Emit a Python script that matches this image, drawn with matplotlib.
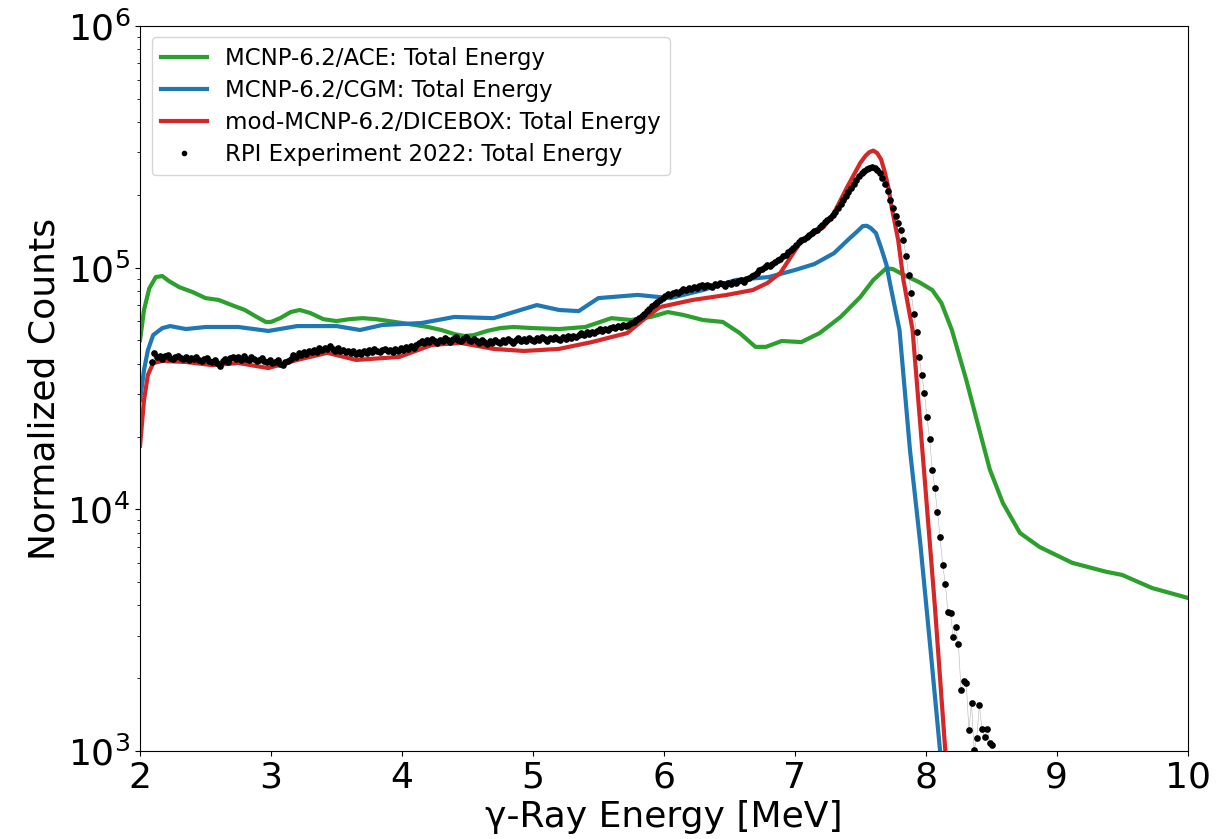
import numpy as np
import matplotlib
matplotlib.use("Agg")
import matplotlib.pyplot as plt

# MCNP-6.2/ACE total energy (MeV, counts)
ace_energy = [2.00, 2.03, 2.07, 2.12, 2.17, 2.22, 2.30, 2.40, 2.50, 2.60, 2.70, 2.80,
              2.88, 2.96, 3.00, 3.07, 3.15, 3.22, 3.30, 3.40, 3.50, 3.60, 3.70, 3.80,
              3.90, 4.00, 4.10, 4.20, 4.30, 4.40, 4.48, 4.55, 4.65, 4.75, 4.85, 5.00,
              5.20, 5.40, 5.60, 5.75, 5.90, 6.03, 6.15, 6.30, 6.45, 6.58, 6.70, 6.78,
              6.90, 7.05, 7.19, 7.35, 7.50, 7.60, 7.70, 7.75, 7.85, 7.95, 8.05, 8.12,
              8.20, 8.31, 8.41, 8.49, 8.59, 8.72, 8.87, 9.12, 9.38, 9.50, 9.73, 10.0]
ace_counts = [50100, 66800, 82000, 91400, 92300, 88000, 83000, 79300, 74800, 73500, 70000, 66800,
              63000, 59600, 59600, 61800, 65500, 66800, 64900, 61200, 60100, 61200, 61800, 61200,
              60100, 59000, 57900, 56800, 55200, 53100, 52100, 52600, 54700, 56200, 56800, 56200,
              55700, 56800, 61800, 60700, 62500, 65500, 63700, 60700, 59600, 53600, 47000, 47000,
              49700, 49200, 53600, 62500, 75500, 88900, 99500, 98600, 92300, 87100, 80800, 71400,
              55200, 34300, 21300, 14600, 10600, 7980, 6980, 6000, 5510, 5350, 4720, 4300]

# MCNP-6.2/CGM total energy
cgm_energy = [2.00, 2.03, 2.06, 2.10, 2.17, 2.23, 2.35, 2.50, 2.75, 2.98, 3.20, 3.50,
              3.68, 3.85, 4.15, 4.40, 4.70, 5.03, 5.20, 5.35, 5.50, 5.80, 6.05, 6.30,
              6.55, 6.80, 7.00, 7.15, 7.30, 7.42, 7.47, 7.52, 7.55, 7.58, 7.62, 7.66,
              7.70, 7.73, 7.80, 7.88, 7.96, 8.03, 8.11, 8.14]
cgm_counts = [28300, 37700, 45600, 52600, 56200, 57300, 55700, 56800, 56800, 54700, 57300, 57300,
              55200, 57900, 59000, 62500, 61800, 70000, 66800, 66100, 74800, 77100, 74800, 80800,
              88900, 91400, 97700, 103500, 114800, 132400, 140000, 148600, 149000, 145900, 139000, 120500,
              103000, 84700, 55200, 17600, 7110, 2880, 1000, 690]

# mod-MCNP-6.2/DICEBOX total energy
dicebox_energy = [2.00, 2.03, 2.06, 2.10, 2.17, 2.35, 2.55, 2.75, 2.98, 3.20, 3.43, 3.65,
                  3.98, 4.23, 4.45, 4.70, 4.93, 5.20, 5.45, 5.72, 5.87, 5.97, 6.22, 6.48,
                  6.68, 6.79, 6.89, 7.04, 7.22, 7.30, 7.40, 7.50, 7.54, 7.57, 7.60, 7.63,
                  7.66, 7.69, 7.715, 7.74, 7.79, 7.83, 7.90, 7.99, 8.07, 8.15, 8.18]
dicebox_counts = [18300, 28300, 36000, 40300, 41100, 40700, 39500, 40300, 38400, 41500, 44400, 41500,
                  42700, 47900, 48800, 46100, 45200, 46100, 49200, 53600, 62500, 68700, 73500, 77100,
                  80800, 86300, 95100, 126500, 147200, 168300, 215300, 271000, 290000, 300600, 305000, 297800,
                  280000, 246000, 215000, 178200, 130000, 88900, 55200, 13900, 3980, 1000, 690]

# RPI experiment 2022, bins of 0.02 MeV starting at 2.09 MeV (counts / 1000)
exp_start, exp_step = 2.09, 0.02
exp_kcounts = [
    40.6, 44.2, 42.8, 43.1, 42.0, 42.9, 43.4, 42.2, 41.7, 42.6,   # 2.09
    43.0, 42.1, 41.8, 42.5, 41.4, 42.3, 41.9, 42.7, 41.5, 40.9,   # 2.29
    41.8, 42.4, 41.2, 40.8, 41.6, 40.3, 39.0, 41.1, 41.9, 40.6,   # 2.49
    42.2, 42.8, 41.7, 42.5, 41.4, 42.9, 42.0, 41.3, 42.6, 41.8,   # 2.69
    40.9, 41.6, 42.3, 41.0, 40.5, 41.4, 40.2, 40.8, 41.5, 40.1,   # 2.89
    39.4, 40.7, 41.2, 42.0, 43.3, 42.6, 44.4, 43.5, 44.9, 44.0,   # 3.09
    45.3, 44.6, 45.8, 44.9, 46.3, 45.5, 46.7, 45.9, 47.2, 46.0,   # 3.29
    45.4, 46.5, 45.1, 45.8, 44.6, 45.3, 44.2, 45.0, 43.8, 44.7,   # 3.49
    44.1, 45.2, 44.5, 45.6, 44.9, 46.0, 45.3, 44.6, 45.7, 46.2,   # 3.69
    45.0, 45.8, 44.8, 46.1, 45.4, 46.4, 45.6, 46.9, 46.0, 47.3,   # 3.89
    46.5, 47.8, 48.6, 49.5, 48.9, 50.2, 49.4, 50.6, 49.8, 48.9,   # 4.09
    50.3, 49.6, 51.0, 50.1, 49.3, 50.8, 51.4, 50.2, 49.5, 50.7,   # 4.29
    51.6, 50.4, 49.8, 50.9, 49.6, 48.8, 50.1, 49.2, 48.5, 49.7,   # 4.49
    48.9, 50.3, 49.4, 48.7, 50.0, 49.1, 50.5, 49.6, 48.8, 50.2,   # 4.69
    51.1, 49.9, 50.8, 49.5, 51.3, 50.4, 49.7, 51.0, 50.2, 51.6,   # 4.89
    50.6, 49.9, 51.2, 50.5, 51.8, 50.9, 50.2, 51.5, 50.8, 52.0,   # 5.09
    51.2, 52.3, 51.6, 52.8, 53.5, 52.7, 54.0, 53.2, 54.4, 53.6,   # 5.29
    54.8, 55.5, 54.6, 55.8, 55.0, 56.2, 57.0, 56.3, 57.5, 56.8,   # 5.49
    58.0, 57.4, 58.1, 58.9, 59.6, 60.8, 61.7, 62.9, 64.4, 66.0,   # 5.69
    67.5, 69.2, 70.6, 72.3, 73.4, 75.0, 76.2, 77.5, 76.8, 78.4,   # 5.89
    79.1, 78.2, 80.0, 81.3, 80.5, 82.2, 81.4, 83.0, 82.1, 83.8,   # 6.09
    84.6, 83.4, 85.1, 84.3, 83.2, 85.6, 84.5, 86.0, 85.2, 84.0,   # 6.29
    86.5, 85.4, 87.1, 86.2, 87.8, 88.6, 87.5, 89.4, 90.3, 92.0,   # 6.49
    93.5, 95.1, 97.4, 99.0, 100.8, 102.3, 101.5, 104.0, 105.8, 107.2,   # 6.69
    109.0, 111.5, 113.0, 116.2, 118.4, 121.0, 124.5, 127.3, 130.6, 131.8,   # 6.89
    134.5, 136.0, 138.9, 141.2, 143.5, 146.8, 150.2, 154.0, 157.3, 161.0,   # 7.09
    165.4, 170.2, 176.0, 183.1, 190.4, 198.2, 205.7, 213.0, 222.5, 231.0,   # 7.29
    240.2, 247.5, 252.3, 256.8, 259.0, 260.2, 258.4, 254.1, 246.0, 235.2,   # 7.49
    222.0, 207.5, 191.0, 176.4, 164.3, 153.0, 143.2, 130.5, 112.0, 93.0,    # 7.69
    78.2, 64.0, 54.2, 42.7, 36.0, 30.3, 24.1, 19.5, 14.6, 12.2,   # 7.89
    9.75, 7.67, 5.89, 4.91, 3.76, 3.72, 2.96, 3.26, 2.77, 1.79,   # 8.09
    1.95, 1.91, 1.22, 1.58, 1.01, 1.13, 1.55, 1.23, 1.14, 1.23,   # 8.29
    1.08, 1.06,                                                   # 8.49
]

exp_energy = exp_start + exp_step * np.arange(len(exp_kcounts))
exp_counts = np.array(exp_kcounts) * 1000

fig = plt.figure(figsize=(12.18, 8.39), dpi=100)
ax = fig.add_axes([0.115, 0.105, 0.86, 0.864])

ax.plot(ace_energy, ace_counts, color='tab:green', lw=3, label='MCNP-6.2/ACE: Total Energy')
ax.plot(cgm_energy, cgm_counts, color='tab:blue', lw=3, label='MCNP-6.2/CGM: Total Energy')
ax.plot(dicebox_energy, dicebox_counts, color='tab:red', lw=3,
        label='mod-MCNP-6.2/DICEBOX: Total Energy')
ax.plot(exp_energy, exp_counts, color='gray', lw=0.4, alpha=0.6)
ax.plot(exp_energy, exp_counts, 'o', color='k', ms=3.8, ls='none',
        label='RPI Experiment 2022: Total Energy')

ax.set_yscale('log')
ax.set_xlim(2, 10)
ax.set_ylim(1e3, 1e6)
ax.set_xlabel('γ-Ray Energy [MeV]', fontsize=26)
ax.set_ylabel('Normalized Counts', fontsize=26)
ax.tick_params(axis='both', which='major', labelsize=26)
ax.legend(loc='upper left', fontsize=16.5, markerscale=0.8, labelspacing=0.4)

fig.savefig('out.png', dpi=100)
